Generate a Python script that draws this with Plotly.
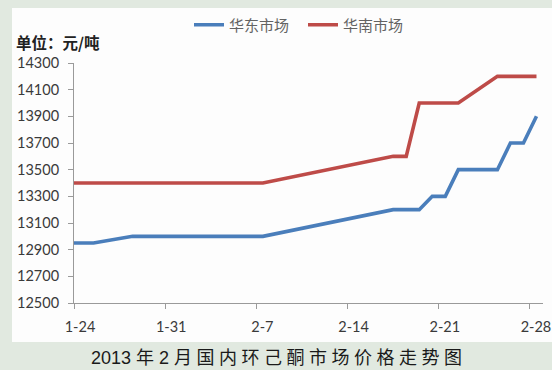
import pandas as pd
import plotly.graph_objects as go

# Daily quotes (trading days), 元/吨
dates = [
    "2013-01-23", "2013-01-24", "2013-01-25", "2013-01-28", "2013-01-29",
    "2013-01-30", "2013-01-31", "2013-02-01", "2013-02-04", "2013-02-05",
    "2013-02-06", "2013-02-07", "2013-02-17", "2013-02-18", "2013-02-19",
    "2013-02-20", "2013-02-21", "2013-02-22", "2013-02-25", "2013-02-26",
    "2013-02-27", "2013-02-28",
]
east_china = [
    12950, 12950, 12950, 13000, 13000,
    13000, 13000, 13000, 13000, 13000,
    13000, 13000, 13200, 13200, 13200,
    13300, 13300, 13500, 13500, 13700,
    13700, 13900,
]
south_china = [
    13400, 13400, 13400, 13400, 13400,
    13400, 13400, 13400, 13400, 13400,
    13400, 13400, 13600, 13600, 14000,
    14000, 14000, 14000, 14200, 14200,
    14200, 14200,
]
series_names = ["华东市场", "华南市场"]
series_colors = ["#4A7EBB", "#BE4B48"]

tick_dates = ["2013-01-24", "2013-01-31", "2013-02-07", "2013-02-14", "2013-02-21", "2013-02-28"]
tick_labels = ["1-24", "1-31", "2-7", "2-14", "2-21", "2-28"]
y_ticks = [12500, 12700, 12900, 13100, 13300, 13500, 13700, 13900, 14100, 14300]

unit_label = "单位：元/吨"
sp = "\u2005"
chart_title = "2013 年 2 月" + sp + sp.join("国内环己酮市场价格走势图")

W, H = 552, 370
L, R, T, B = 74, 9, 63, 67
pw, ph = W - L - R, H - T - B

# each day occupies one slot on the date axis; points sit in the middle of it
x = pd.to_datetime(dates) + pd.Timedelta(hours=12)

num_font = "Lato, 'Noto Sans CJK SC', sans-serif"
cjk_font = "'Noto Sans CJK SC', 'Noto Sans', sans-serif"
title_font = "'Liberation Sans', 'Noto Sans CJK SC', sans-serif"

fig = go.Figure()
for name, vals, col in zip(series_names, [east_china, south_china], series_colors):
    fig.add_trace(go.Scatter(
        x=x, y=vals, mode="lines", name=name,
        line=dict(color=col, width=3.6),
        cliponaxis=True,
    ))

def px_x(p):
    return (p - L) / pw

def px_y(p):
    return (H - B - p) / ph

fig.update_layout(
    width=W, height=H,
    margin=dict(l=L, r=R, t=T, b=B, pad=0, autoexpand=False),
    paper_bgcolor="#E1E9E0",
    plot_bgcolor="rgba(0,0,0,0)",
    showlegend=True,
    legend=dict(
        orientation="h",
        x=px_x(189), xanchor="left",
        y=px_y(25), yanchor="middle",
        bgcolor="rgba(0,0,0,0)",
        font=dict(family=cjk_font, size=15, color="#636363"),
        itemwidth=30,
        entrywidth=69, entrywidthmode="pixels",
        tracegroupgap=0,
    ),
    xaxis=dict(
        type="date",
        range=["2013-01-24", "2013-03-01"],
        tickvals=pd.to_datetime(tick_dates),
        ticktext=tick_labels,
        ticks="outside", ticklen=5, tickwidth=1, tickcolor="#9A9A9A",
        ticklabelshift=6,
        ticklabelstandoff=6,
        showline=True, linecolor="#9A9A9A", linewidth=1,
        showgrid=False, zeroline=False,
        tickfont=dict(family=num_font, size=14.5, color="#3A3A3A"),
        automargin=False,
        fixedrange=True,
    ),
    yaxis=dict(
        range=[12500, 14300],
        tickvals=y_ticks,
        tickformat="d",
        ticks="outside", ticklen=5, tickwidth=1, tickcolor="#9A9A9A",
        ticklabelstandoff=6,
        showline=True, linecolor="#9A9A9A", linewidth=1,
        showgrid=False, zeroline=False,
        tickfont=dict(family=num_font, size=14.5, color="#3A3A3A"),
        automargin=False,
        fixedrange=True,
    ),
    shapes=[
        dict(
            type="rect", xref="paper", yref="paper",
            x0=px_x(12), x1=px_x(W + 2), y0=px_y(342), y1=px_y(8),
            fillcolor="#FDFDFD", line=dict(width=0), layer="below",
        )
    ],
    annotations=[
        dict(
            text=unit_label, xref="paper", yref="paper",
            x=px_x(14), y=px_y(42), xanchor="left", yanchor="middle",
            showarrow=False,
            font=dict(family=cjk_font, size=15.5, color="#222222", weight="bold"),
        ),
        dict(
            text=chart_title, xref="paper", yref="paper",
            x=px_x(276), y=px_y(358), xanchor="center", yanchor="middle",
            showarrow=False,
            font=dict(family=title_font, size=18, color="#1A1A1A"),
        ),
    ],
)

fig.write_html("out.html")
